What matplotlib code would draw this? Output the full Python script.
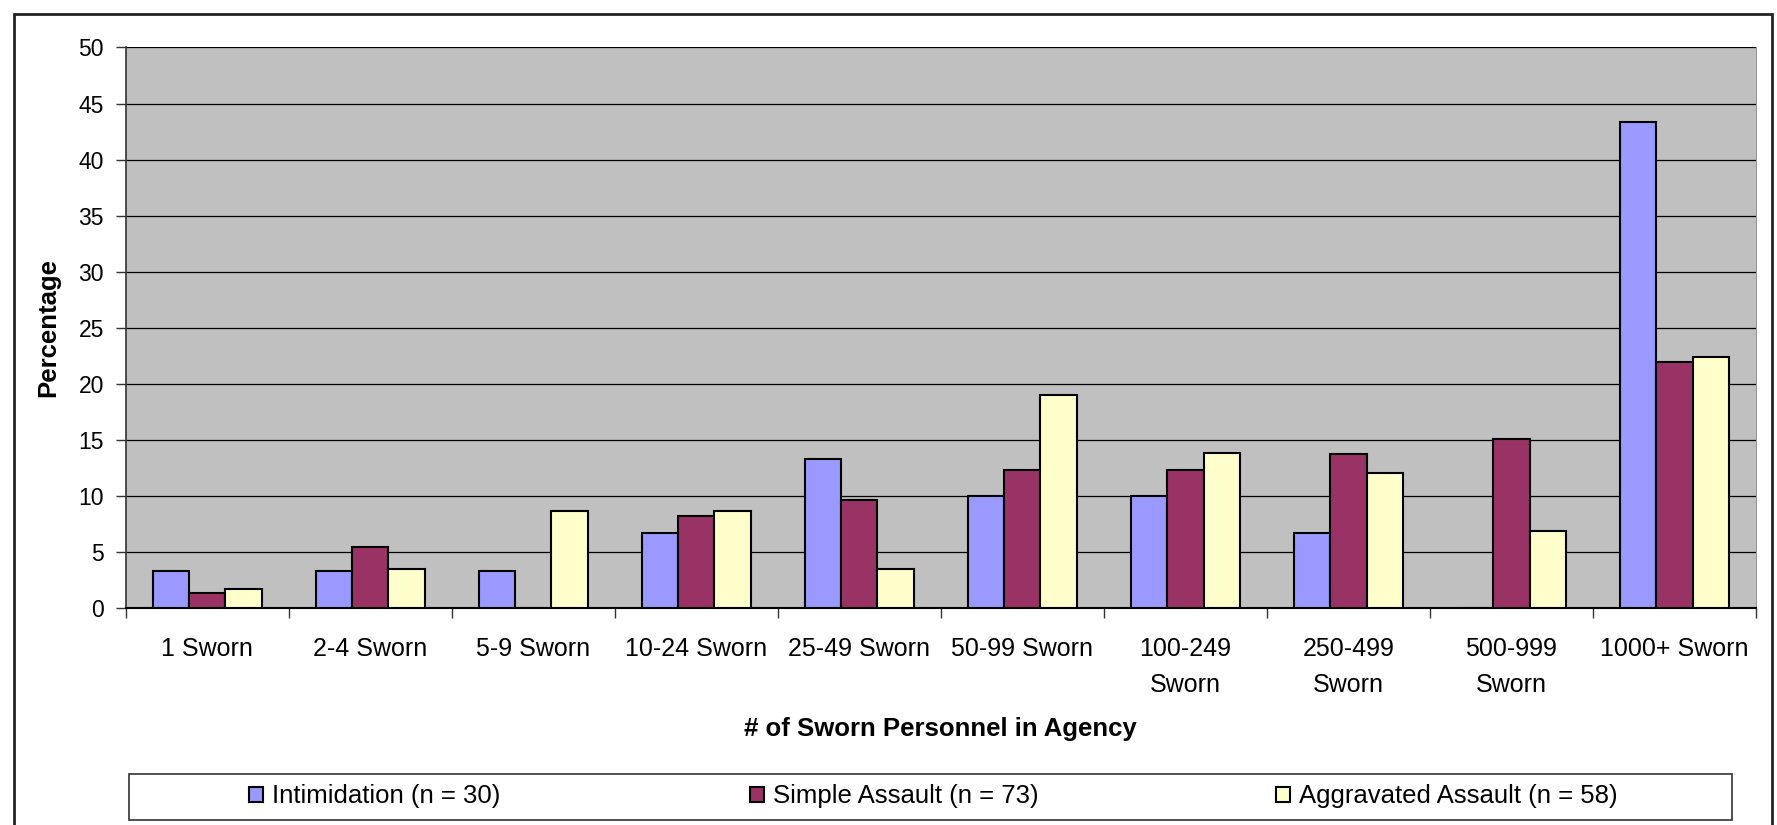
import matplotlib.pyplot as plt
from matplotlib.patches import Rectangle
import numpy as np

plt.rcParams["font.family"] = ["Liberation Sans", "DejaVu Sans"]

categories = [
    "1 Sworn", "2-4 Sworn", "5-9 Sworn", "10-24 Sworn", "25-49 Sworn",
    "50-99 Sworn", "100-249\nSworn", "250-499\nSworn", "500-999\nSworn", "1000+ Sworn",
]
intimidation = [3.33, 3.33, 3.33, 6.67, 13.33, 10.0, 10.0, 6.67, 0.0, 43.33]
simple_assault = [1.37, 5.48, 0.0, 8.22, 9.59, 12.33, 12.33, 13.70, 15.07, 21.92]
aggravated_assault = [1.72, 3.45, 8.62, 8.62, 3.45, 18.97, 13.79, 12.07, 6.90, 22.41]
series_labels = [
    "Intimidation (n = 30)",
    "Simple Assault (n = 73)",
    "Aggravated Assault (n = 58)",
]
yticks = [0, 5, 10, 15, 20, 25, 30, 35, 40, 45, 50]

COLORS = ["#9999FF", "#993366", "#FFFFCC"]
PLOT_BG = "#C0C0C0"
W, H = 1777, 825

fig = plt.figure(figsize=(W / 100, H / 100), dpi=100, facecolor="white")
ax = fig.add_axes([125.7 / W, 1 - 608 / H, (1756 - 125.7) / W, (608 - 47.5) / H])
ax.set_facecolor(PLOT_BG)

# Excel-style clustered columns, gap width 150%
x = np.arange(len(categories))
width = 1 / 4.5
handles = []
for i, (vals, color) in enumerate(zip([intimidation, simple_assault, aggravated_assault], COLORS)):
    h = ax.bar(
        x + (i - 1) * width, vals, width,
        color=color, edgecolor="black", linewidth=1.5, zorder=3,
        label=series_labels[i],
    )
    handles.append(h)

ax.set_xlim(-0.5, len(categories) - 0.5)
ax.set_ylim(0, 50)
ax.set_yticks(yticks)
ax.yaxis.grid(True, color="black", linewidth=0.9, zorder=1)
ax.set_axisbelow(True)

ax.set_xticks(x)
ax.set_xticklabels(categories, fontsize=18, multialignment="center", linespacing=1.6)
ax.set_xticks(np.arange(len(categories) + 1) - 0.5, minor=True)
ax.tick_params(axis="x", which="major", length=0, pad=21)
ax.tick_params(axis="x", which="minor", length=7.5, width=1.0, color="#333333")
ax.tick_params(axis="y", length=7.2, width=1.0, labelsize=16.5, pad=8.5, color="#333333")

ax.spines["top"].set_visible(False)
ax.spines["right"].set_color("#999999")
ax.spines["left"].set_color("#333333")
ax.spines["bottom"].set_color("black")
ax.spines["left"].set_linewidth(1.2)
ax.spines["bottom"].set_linewidth(1.5)

ax.set_ylabel("Percentage", fontsize=18.5, fontweight="bold")
ax.yaxis.set_label_coords((48 - 125.7) / (1756 - 125.7), 0.5)
ax.yaxis.label.set_va("center")
ax.set_xlabel("# of Sworn Personnel in Agency", fontsize=18.5, fontweight="bold")
ax.xaxis.set_label_coords(0.5, (608 - 729) / (608 - 47.5))
ax.xaxis.label.set_va("center")

# legend box plus one entry per series, placed like the Excel legend
fig.patches.append(Rectangle(
    (129 / W, 1 - 820 / H), (1732 - 129) / W, (820 - 774) / H,
    transform=fig.transFigure, fill=False, edgecolor="#333333", linewidth=1.2,
))
entry_x = [249, 750, 1276]
for h, lab, ex in zip(handles, series_labels, entry_x):
    fig.legend(
        handles=[h], labels=[lab], loc="center left",
        bbox_to_anchor=(ex / W, 1 - 796.5 / H), frameon=False, fontsize=18.5,
        handlelength=0.55, handleheight=0.55, handletextpad=0.35,
        borderpad=0, borderaxespad=0,
    )

# outer chart border
fig.patches.append(Rectangle(
    (14 / W, -0.01), (1772 - 14) / W, 1.01 - 14 / H,
    transform=fig.transFigure, fill=False, edgecolor="#222222", linewidth=2,
))

fig.savefig("out.png", dpi=100, facecolor="white")
